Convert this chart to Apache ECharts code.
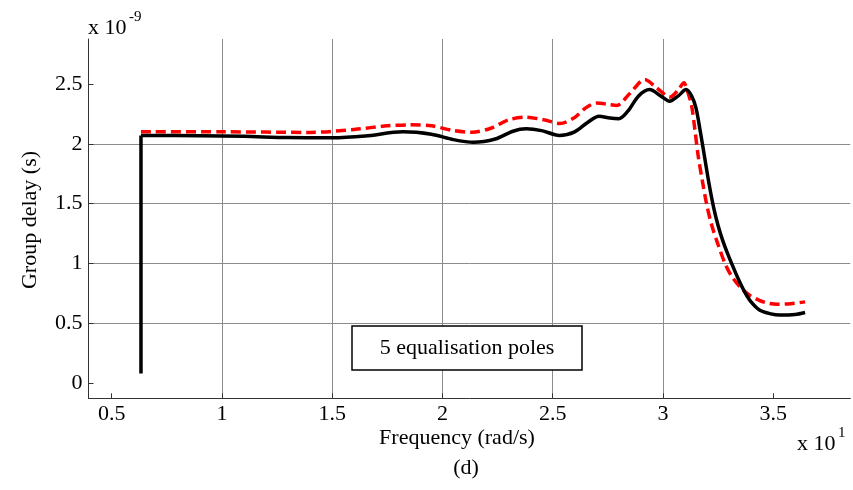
<!DOCTYPE html>
<html>
<head>
<meta charset="utf-8">
<script src="https://cdn.jsdelivr.net/npm/echarts@6/dist/echarts.min.js"></script>
<style>
html,body{margin:0;padding:0;background:#fff;}
#c{width:853px;height:490px;}
</style>
</head>
<body>
<div id="c"></div>
<script>
// ---- data (frequency in units of 10 rad/s, delay in units of 1e-9 s) ----
const xTicks = [0.5, 1, 1.5, 2, 2.5, 3, 3.5];
const yTicks = [0, 0.5, 1, 1.5, 2, 2.5];

const blackRiseX = [0.633, 0.633];
const blackRiseY = [0.083, 2.069];

const blackX = [0.633, 0.9, 1.1, 1.3, 1.5, 1.65, 1.82, 1.95, 2.05, 2.14, 2.24, 2.32, 2.38, 2.45, 2.53, 2.6, 2.66, 2.71, 2.76, 2.80, 2.84, 2.89, 2.94, 2.99, 3.03, 3.07, 3.105, 3.13, 3.15, 3.17, 3.19, 3.21, 3.23, 3.25, 3.27, 3.29, 3.312, 3.34, 3.372, 3.40, 3.44, 3.49, 3.53, 3.6, 3.645];
const blackY = [2.069, 2.068, 2.062, 2.052, 2.05, 2.065, 2.10, 2.08, 2.035, 2.013, 2.04, 2.105, 2.125, 2.11, 2.07, 2.10, 2.18, 2.23, 2.215, 2.21, 2.27, 2.40, 2.453, 2.40, 2.355, 2.40, 2.453, 2.40, 2.30, 2.10, 1.88, 1.66, 1.47, 1.32, 1.20, 1.10, 1.00, 0.88, 0.76, 0.68, 0.61, 0.58, 0.57, 0.575, 0.592];

const redX = [0.633, 1.0, 1.4, 1.6, 1.75, 1.85, 1.95, 2.05, 2.133, 2.22, 2.30, 2.38, 2.46, 2.533, 2.60, 2.65, 2.70, 2.75, 2.79, 2.85, 2.918, 2.97, 3.032, 3.07, 3.095, 3.11, 3.13, 3.145, 3.16, 3.18, 3.198, 3.22, 3.25, 3.282, 3.31, 3.35, 3.39, 3.44, 3.48, 3.52, 3.58, 3.645];
const redY = [2.10, 2.10, 2.095, 2.12, 2.15, 2.158, 2.15, 2.11, 2.097, 2.13, 2.20, 2.222, 2.20, 2.17, 2.22, 2.30, 2.34, 2.33, 2.32, 2.42, 2.536, 2.47, 2.39, 2.45, 2.51, 2.45, 2.32, 2.12, 1.90, 1.68, 1.50, 1.33, 1.16, 1.00, 0.90, 0.805, 0.74, 0.69, 0.668, 0.66, 0.665, 0.68];

const xLabel = 'Frequency (rad/s)';
const yLabel = 'Group delay (s)';
const boxLabel = '5 equalisation poles';
const panelLabel = '(d)';

const zip = (xs, ys) => xs.map((x, i) => [x, ys[i]]);
const FONT = '"Liberation Serif", "DejaVu Serif", serif';

const chart = echarts.init(document.getElementById('c'), null, {renderer: 'canvas'});
chart.setOption({
  animation: false,
  backgroundColor: '#fff',
  grid: {left: 88.5, top: 39, right: 2.7, bottom: 91.7, containLabel: false},
  xAxis: {
    type: 'value', min: 0.395, max: 3.85,
    minInterval: 0.5, maxInterval: 0.5,
    axisLine: {show: true, onZero: false, lineStyle: {color: '#333', width: 1}},
    axisTick: {show: true, inside: true, length: 5, customValues: xTicks, lineStyle: {color: '#333'}},
    axisLabel: {customValues: xTicks, formatter: v => String(v), color: '#000', fontFamily: FONT, fontSize: 22, margin: 5},
    splitLine: {show: true, showMinLine: false, showMaxLine: false, lineStyle: {color: '#8c8c8c', width: 1}}
  },
  yAxis: {
    type: 'value', min: -0.125, max: 2.875,
    minInterval: 0.5, maxInterval: 0.5,
    axisLine: {show: true, onZero: false, lineStyle: {color: '#333', width: 1}},
    axisTick: {show: true, inside: true, length: 5, customValues: yTicks, lineStyle: {color: '#333'}},
    axisLabel: {customValues: yTicks, formatter: v => String(v), color: '#000', fontFamily: FONT, fontSize: 22, margin: 6},
    splitLine: {show: true, showMinLine: false, showMaxLine: false, lineStyle: {color: '#8c8c8c', width: 1}}
  },
  series: [
    {type: 'line', data: zip(redX, redY), smooth: 0.3, showSymbol: false, symbol: 'none',
     lineStyle: {color: '#ff0000', width: 3.5, type: [10, 5]}, z: 3},
    {type: 'line', data: zip(blackRiseX, blackRiseY), smooth: false, showSymbol: false, symbol: 'none',
     lineStyle: {color: '#000', width: 3.5}, z: 4},
    {type: 'line', data: zip(blackX, blackY), smooth: 0.3, showSymbol: false, symbol: 'none',
     lineStyle: {color: '#000', width: 3.5}, z: 4}
  ],
  graphic: [
    {type: 'text', left: 88, top: 17, style: {text: 'x 10', font: '22px ' + FONT, fill: '#000'}},
    {type: 'text', left: 129, top: 10, style: {text: '-9', font: '15px ' + FONT, fill: '#000'}},
    {type: 'text', left: 797, top: 433, style: {text: 'x 10', font: '22px ' + FONT, fill: '#000'}},
    {type: 'text', left: 838, top: 426, style: {text: '1', font: '15px ' + FONT, fill: '#000'}},
    {type: 'text', x: 30, y: 220, rotation: Math.PI / 2,
     style: {text: yLabel, font: '22px ' + FONT, fill: '#000', align: 'center', verticalAlign: 'middle'}},
    {type: 'text', x: 457, y: 438,
     style: {text: xLabel, font: '22px ' + FONT, fill: '#000', align: 'center', verticalAlign: 'middle'}},
    {type: 'text', x: 466, y: 468,
     style: {text: panelLabel, font: '22px ' + FONT, fill: '#000', align: 'center', verticalAlign: 'middle'}},
    {type: 'rect', shape: {x: 352, y: 326, width: 230, height: 44}, z: 10,
     style: {fill: '#fff', stroke: '#000', lineWidth: 1.5}},
    {type: 'text', x: 467, y: 348, z: 11,
     style: {text: boxLabel, font: '22px ' + FONT, fill: '#000', align: 'center', verticalAlign: 'middle'}}
  ]
});
</script>
</body>
</html>
